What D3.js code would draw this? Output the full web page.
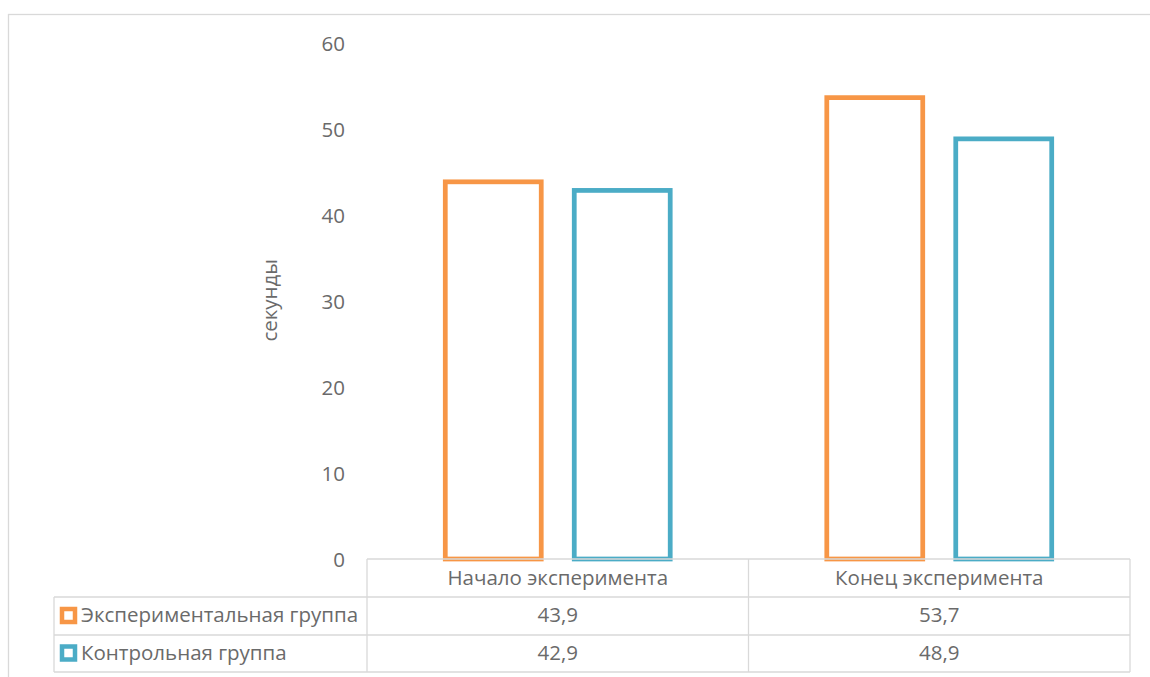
<!DOCTYPE html>
<html>
<head>
<meta charset="utf-8">
<script src="https://cdn.jsdelivr.net/npm/d3@7/dist/d3.min.js"></script>
<style>
  html, body { margin: 0; padding: 0; background: #fff; }
  svg { display: block; }
  text { font-family: "Open Sans", sans-serif; fill: #6a6a6a; }
</style>
</head>
<body>
<svg id="chart" width="1150" height="677"></svg>
<script>
// Categories, series and values
const categories = ["Начало эксперимента", "Конец эксперимента"];
const seriesNames = ["Экспериментальная группа", "Контрольная группа"];
const experimental = [43.9, 53.7];
const control = [42.9, 48.9];
const seriesValues = [experimental, control];
const seriesColors = ["#F79646", "#4BACC6"];
const yTicks = [0, 10, 20, 30, 40, 50, 60];
const yTitle = "секунды";

const fmt = v => String(v).replace(".", ",");

const svg = d3.select("#chart");
const W = 1150, H = 677;
const fontSize = 20.5;
const textColor = "#6a6a6a";

// Chart frame
svg.append("rect")
  .attr("x", 8.5).attr("y", 14.5)
  .attr("width", W + 20).attr("height", H + 20)
  .attr("fill", "none").attr("stroke", "#d9d9d9").attr("stroke-width", 1.3);

const plot = { left: 367, right: 1130, top: 43.5, bottom: 559 };

const x0 = d3.scaleBand().domain(categories).range([plot.left, plot.right]).padding(0);
const x1 = d3.scaleBand().domain(seriesNames).range([0, x0.bandwidth()])
  .paddingInner(0.256).paddingOuter(0.607);
const y = d3.scaleLinear().domain([0, 60]).range([plot.bottom, plot.top]);

// Y axis labels (no axis line)
const yAxis = d3.axisLeft(y).tickValues(yTicks).tickSize(0).tickPadding(0).tickFormat(d => d);
const yg = svg.append("g").attr("transform", "translate(345,0)").call(yAxis);
yg.select(".domain").remove();
yg.selectAll("text")
  .attr("font-family", "Open Sans, sans-serif")
  .attr("font-size", fontSize)
  .attr("fill", textColor)
  .attr("dy", "0.35em");

// Y axis title
svg.append("text")
  .attr("transform", `translate(277,${(plot.top + plot.bottom) / 2 - 1}) rotate(-90)`)
  .attr("text-anchor", "middle")
  .attr("font-size", fontSize)
  .text(yTitle);

// Bars: outlined rectangles
const barData = [];
seriesNames.forEach((s, si) => {
  categories.forEach((c, ci) => {
    barData.push({ series: s, cat: c, value: seriesValues[si][ci], color: seriesColors[si] });
  });
});
const sw = 4.75;
svg.append("g").selectAll("rect").data(barData).join("rect")
  .attr("x", d => x0(d.cat) + x1(d.series))
  .attr("y", d => y(d.value))
  .attr("width", x1.bandwidth())
  .attr("height", d => y(0) - y(d.value))
  .attr("fill", "#fff")
  .attr("stroke", d => d.color)
  .attr("stroke-width", sw);

// Data table
const tableLeft = 54;
const rowTops = [559, 597, 635, 672];
const grid = svg.append("g").attr("stroke", "#d9d9d9").attr("stroke-width", 1.3);
// header row top line
grid.append("line").attr("x1", plot.left).attr("x2", plot.right).attr("y1", rowTops[0]).attr("y2", rowTops[0]);
// series rows
for (let i = 1; i < rowTops.length; i++) {
  grid.append("line").attr("x1", tableLeft).attr("x2", plot.right).attr("y1", rowTops[i]).attr("y2", rowTops[i]);
}
// vertical lines
grid.append("line").attr("x1", tableLeft).attr("x2", tableLeft).attr("y1", rowTops[1]).attr("y2", rowTops[3]);
categories.forEach(c => {
  grid.append("line").attr("x1", x0(c)).attr("x2", x0(c)).attr("y1", rowTops[0]).attr("y2", rowTops[3]);
});
grid.append("line").attr("x1", plot.right).attr("x2", plot.right).attr("y1", rowTops[0]).attr("y2", rowTops[3]);

// Category header
svg.append("g").selectAll("text").data(categories).join("text")
  .attr("x", d => x0(d) + x0.bandwidth() / 2)
  .attr("y", (rowTops[0] + rowTops[1]) / 2)
  .attr("dy", "0.35em")
  .attr("text-anchor", "middle")
  .attr("font-size", fontSize)
  .text(d => d);

// Series rows: legend key, name, values
seriesNames.forEach((s, si) => {
  const cy = (rowTops[si + 1] + rowTops[si + 2]) / 2 - 1;
  svg.append("rect")
    .attr("x", 62).attr("y", cy - 6)
    .attr("width", 13).attr("height", 13)
    .attr("fill", "#fff")
    .attr("stroke", seriesColors[si]).attr("stroke-width", 4.5);
  svg.append("text")
    .attr("x", 81).attr("y", cy).attr("dy", "0.35em")
    .attr("font-size", fontSize)
    .text(s);
  categories.forEach((c, ci) => {
    svg.append("text")
      .attr("x", x0(c) + x0.bandwidth() / 2)
      .attr("y", cy).attr("dy", "0.35em")
      .attr("text-anchor", "middle")
      .attr("font-size", fontSize)
      .text(fmt(seriesValues[si][ci]));
  });
});
</script>
</body>
</html>
